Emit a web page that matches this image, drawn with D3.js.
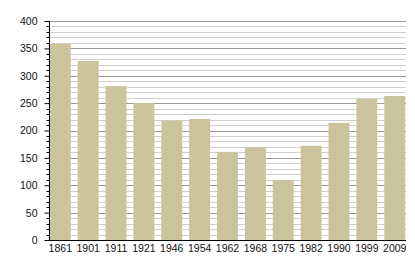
<!DOCTYPE html>
<html>
<head>
<meta charset="utf-8">
<script src="https://cdn.jsdelivr.net/npm/d3@7"></script>
<style>
  html, body { margin: 0; padding: 0; background: #fff; }
  svg text { font-family: Arial, "Liberation Sans", sans-serif; font-size: 10.5px; fill: #111; }
</style>
</head>
<body>
<div id="chart"></div>
<script>
const years = ['1861', '1901', '1911', '1921', '1946', '1954', '1962', '1968', '1975', '1982', '1990', '1999', '2009'];
const population = [358, 327, 281, 250, 218, 221, 161, 169, 109, 172, 214, 258, 263];
const yTicks = [0, 50, 100, 150, 200, 250, 300, 350, 400];

const width = 415, height = 270;
const plot = { left: 49, right: 406, top: 21, bottom: 240 };

const svg = d3.select('#chart')
    .append('svg')
    .attr('width', width)
    .attr('height', height);

// Scales
const x = d3.scaleBand()
    .domain(years)
    .range([plot.left, plot.right])
    .paddingInner(0.25)
    .paddingOuter(0.03);

const y = d3.scaleLinear()
    .domain([0, 400])
    .range([plot.bottom, plot.top]);

// Grid lines every 10, darker every 50
const gridVals = d3.range(10, 401, 10);
svg.append('g')
    .selectAll('line')
    .data(gridVals)
    .join('line')
    .attr('x1', plot.left)
    .attr('x2', plot.right)
    .attr('y1', d => Math.round(y(d)) + 0.5)
    .attr('y2', d => Math.round(y(d)) + 0.5)
    .attr('stroke', d => d % 50 === 0 ? '#9a9a9a' : '#cfcfcf')
    .attr('stroke-width', 1);

// Bars
svg.append('g')
    .selectAll('rect')
    .data(population)
    .join('rect')
    .attr('x', (d, i) => x(years[i]))
    .attr('y', d => y(d))
    .attr('width', x.bandwidth())
    .attr('height', d => plot.bottom - y(d))
    .attr('fill', '#cbc39b');

// Y axis: minor ticks every 10
const yAxisG = svg.append('g').attr('transform', `translate(${plot.left + 0.5},0)`);
yAxisG.selectAll('line.minor')
    .data(gridVals.filter(d => d % 50 !== 0))
    .join('line')
    .attr('class', 'minor')
    .attr('x1', -3).attr('x2', 0)
    .attr('y1', d => Math.round(y(d)) + 0.5)
    .attr('y2', d => Math.round(y(d)) + 0.5)
    .attr('stroke', '#000');

yAxisG.call(d3.axisLeft(y).tickValues(yTicks).tickSize(5).tickPadding(7).tickFormat(d3.format('d')));
yAxisG.select('.domain').attr('d', `M0,${plot.top}V${plot.bottom + 0.5}`).attr('stroke', '#000');
yAxisG.selectAll('.tick line').attr('stroke', '#000');
yAxisG.selectAll('text').attr('fill', '#111').style('font-size', '10.5px');

// X axis
const xAxisG = svg.append('g').attr('transform', `translate(0,${plot.bottom + 0.5})`);
xAxisG.call(d3.axisBottom(x).tickSize(0).tickPadding(4));
xAxisG.select('.domain').attr('d', `M${plot.left},0H${plot.right}`).attr('stroke', '#000');
xAxisG.selectAll('text').attr('fill', '#111').style('font-size', '10.5px');
</script>
</body>
</html>
